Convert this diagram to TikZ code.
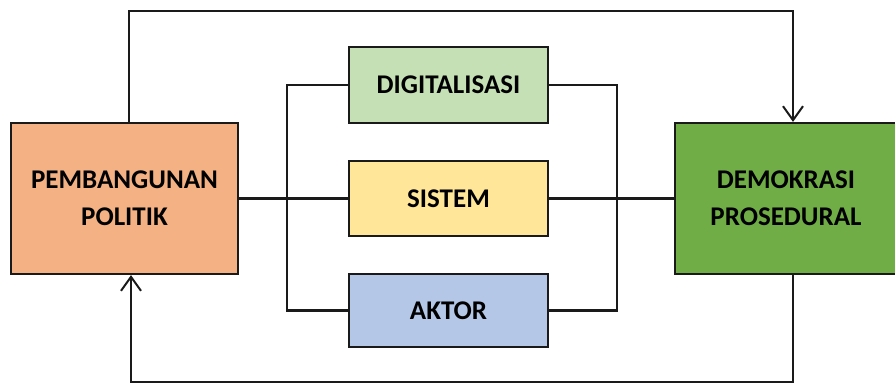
\documentclass[tikz,border=0pt]{standalone}
\usepackage{fontspec}
\setmainfont{Carlito}
\usetikzlibrary{arrows.meta}
\definecolor{orangebox}{HTML}{F4B183}
\definecolor{lgreenbox}{HTML}{C5E0B4}
\definecolor{yellowbox}{HTML}{FFE699}
\definecolor{bluebox}{HTML}{B4C7E7}
\definecolor{greenbox}{HTML}{70AD47}
\definecolor{edge}{HTML}{1A1A1A}
\begin{document}
\begin{tikzpicture}[x=1pt,y=-1pt,
  boxstyle/.style={draw=edge, line width=2.2pt, inner sep=0pt, align=center,
    font=\fontsize{27}{37}\selectfont\bfseries},
  link/.style={draw=edge, line width=2.2pt},
  arr/.style={link, -{Straight Barb[length=14pt,width=20pt,line width=2pt]}}]
\useasboundingbox (0,0) rectangle (895,383);
\node[boxstyle, fill=orangebox, minimum width=227pt, minimum height=151pt] (pp) at (124.5,198.5) {PEMBANGUNAN\\POLITIK};
\node[boxstyle, fill=greenbox, minimum width=222pt, minimum height=151pt] (dp) at (786,198.5) {DEMOKRASI\\PROSEDURAL};
\node[boxstyle, fill=lgreenbox, minimum width=199pt, minimum height=76pt] (dg) at (448.5,85) {DIGITALISASI};
\node[boxstyle, fill=yellowbox, minimum width=199pt, minimum height=75pt] (si) at (448.5,198.5) {SISTEM};
\node[boxstyle, fill=bluebox, minimum width=199pt, minimum height=73pt] (ak) at (448.5,310.5) {AKTOR};
\coordinate (lb) at (287,198.5);
\coordinate (rb) at (617,198.5);
% middle line
\draw[link] (pp.east) -- (si.west);
\draw[link] (si.east) -- (dp.west);
% brackets
\draw[link] (dg.west) -| (lb) |- (ak.west);
\draw[link] (dg.east) -| (rb) |- (ak.east);
% feedback loops
\coordinate (tl) at (129,11);
\coordinate (tr) at (793,11);
\coordinate (bl) at (131,382);
\coordinate (br) at (793,382);
\draw[arr] (pp.north -| tl) -- (tl) -- (tr) -- (dp.north -| tr);
\draw[arr] (dp.south -| br) -- (br) -- (bl) -- (pp.south -| bl);
\end{tikzpicture}
\end{document}
